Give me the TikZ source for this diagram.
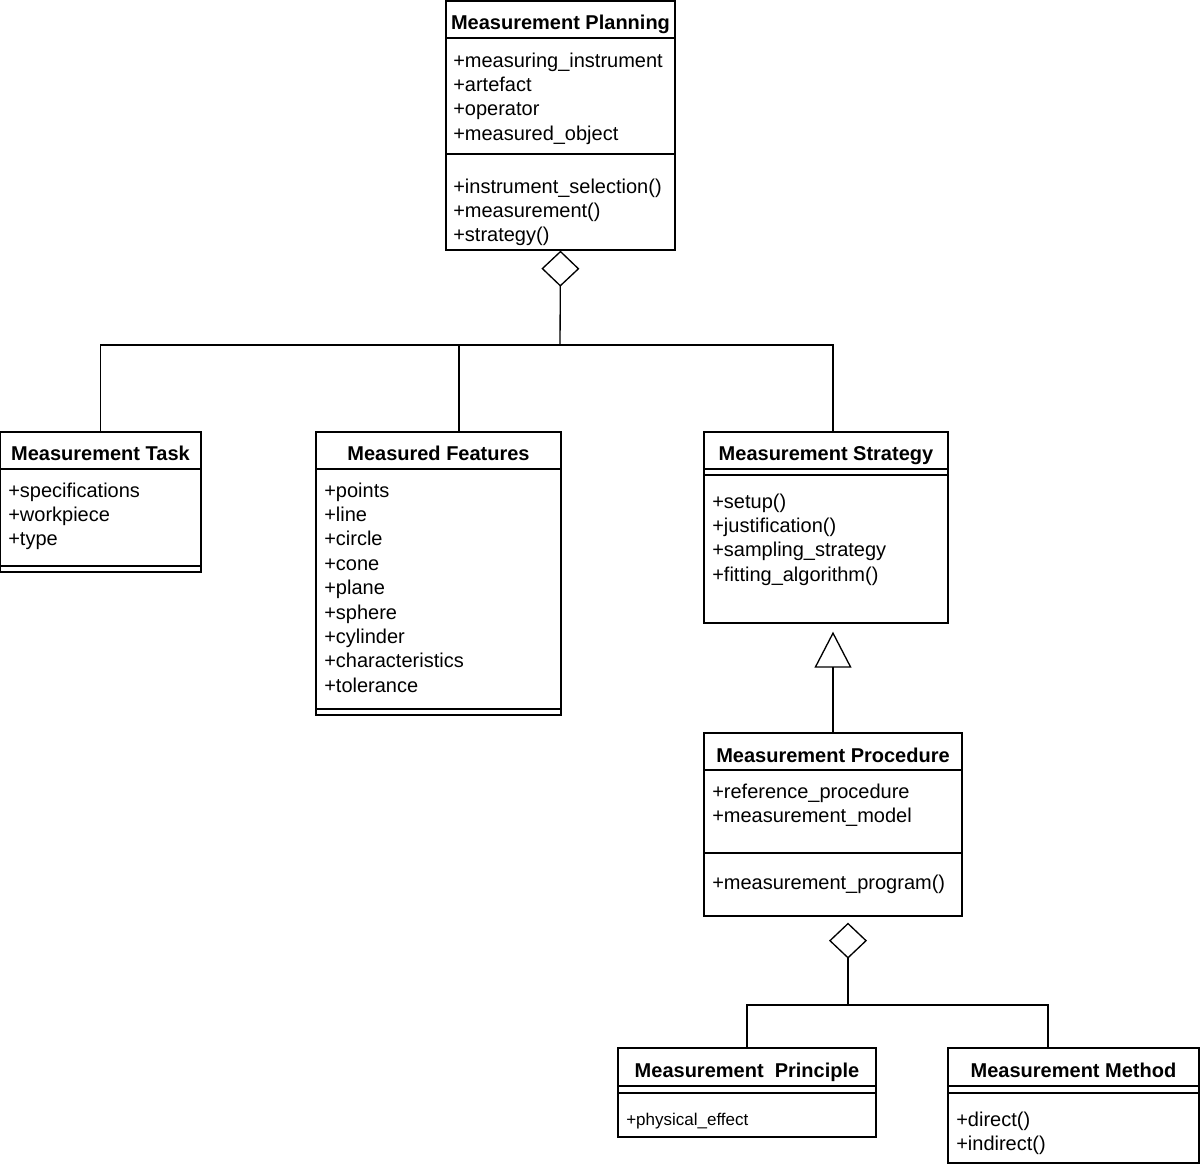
\documentclass[tikz,border=0pt]{standalone}
\usepackage{fontspec}
\setmainfont{Liberation Sans}
\usetikzlibrary{arrows.meta,fit}
\tikzset{
  umlbox/.style={draw, line width=1pt, inner sep=0pt},
  ttl/.style={font=\bfseries\fontsize{15}{18}\selectfont, inner sep=0pt, anchor=base},
  attr/.style={font=\fontsize{15}{18}\selectfont, inner sep=0pt, anchor=base west},
  sattr/.style={font=\fontsize{12.75}{15}\selectfont, inner sep=0pt, anchor=base west},
  sepline/.style={line width=1pt},
  conn/.style={line width=1pt},
  aggr/.style={conn, {Diamond[open,length=27pt,width=28.5pt]}-},
  gen/.style={conn, -{Triangle[open,length=27pt,width=27.75pt]}},
}
\begin{document}
\begin{tikzpicture}[x=0.75pt,y=-0.75pt]
\useasboundingbox (0,0) rectangle (1200,1164);

% ---------- Measurement Planning ----------
\node[umlbox, fit={(446,1) (675,250)}] (mp) {};
\draw[sepline] (446,38) -- (675,38);
\draw[sepline] (446,154) -- (675,154);
\node[ttl] (mpt) at (560.5,29) {Measurement Planning};
\node[attr] (mpa1) at (453,67) {+measuring\_instrument};
\node[attr] (mpa2) at (453,91.4) {+artefact};
\node[attr] (mpa3) at (453,115.8) {+operator};
\node[attr] (mpa4) at (453,140.2) {+measured\_object};
\node[attr] (mpm1) at (453,193) {+instrument\_selection()};
\node[attr] (mpm2) at (453,217.4) {+measurement()};
\node[attr] (mpm3) at (453,241.8) {+strategy()};

% ---------- Measurement Task ----------
\node[umlbox, fit={(0.5,432) (201,572)}] (task) {};
\draw[sepline] (0.5,469) -- (201,469);
\draw[sepline] (0.5,566) -- (201,566);
\node[ttl] (taskt) at (100.5,460) {Measurement Task};
\node[attr] (taska1) at (8,497) {+specifications};
\node[attr] (taska2) at (8,521.4) {+workpiece};
\node[attr] (taska3) at (8,545.8) {+type};

% ---------- Measured Features ----------
\node[umlbox, fit={(316,432) (561,715)}] (feat) {};
\draw[sepline] (316,469) -- (561,469);
\draw[sepline] (316,709) -- (561,709);
\node[ttl] (featt) at (438.5,460) {Measured Features};
\node[attr] (fa1) at (324,497) {+points};
\node[attr] (fa2) at (324,521.4) {+line};
\node[attr] (fa3) at (324,545.8) {+circle};
\node[attr] (fa4) at (324,570.2) {+cone};
\node[attr] (fa5) at (324,594.6) {+plane};
\node[attr] (fa6) at (324,619) {+sphere};
\node[attr] (fa7) at (324,643.4) {+cylinder};
\node[attr] (fa8) at (324,667.8) {+characteristics};
\node[attr] (fa9) at (324,692.2) {+tolerance};

% ---------- Measurement Strategy ----------
\node[umlbox, fit={(704,432) (948,623)}] (strat) {};
\draw[sepline] (704,469) -- (948,469);
\draw[sepline] (704,475) -- (948,475);
\node[ttl] (stratt) at (826,460) {Measurement Strategy};
\node[attr] (sa1) at (712,508) {+setup()};
\node[attr] (sa2) at (712,532.4) {+justification()};
\node[attr] (sa3) at (712,556.8) {+sampling\_strategy};
\node[attr] (sa4) at (712,581.2) {+fitting\_algorithm()};

% ---------- Measurement Procedure ----------
\node[umlbox, fit={(704,733) (962,916)}] (proc) {};
\draw[sepline] (704,770) -- (962,770);
\draw[sepline] (704,853) -- (962,853);
\node[ttl] (proct) at (833,762) {Measurement Procedure};
\node[attr] (pa1) at (712,798) {+reference\_procedure};
\node[attr] (pa2) at (712,822.4) {+measurement\_model};
\node[attr] (pm1) at (712,889) {+measurement\_program()};

% ---------- Measurement Principle ----------
\node[umlbox, fit={(618,1048) (876,1137)}] (princ) {};
\draw[sepline] (618,1086) -- (876,1086);
\draw[sepline] (618,1093) -- (876,1093);
\node[ttl] (princt) at (747,1077) {Measurement~~Principle};
\node[sattr] (pra1) at (626,1125) {+physical\_effect};

% ---------- Measurement Method ----------
\node[umlbox, fit={(948,1048) (1199,1163)}] (meth) {};
\draw[sepline] (948,1086) -- (1199,1086);
\draw[sepline] (948,1093) -- (1199,1093);
\node[ttl] (metht) at (1073.5,1077) {Measurement Method};
\node[attr] (ma1) at (956,1126) {+direct()};
\node[attr] (ma2) at (956,1150.4) {+indirect()};

% ---------- Connectors ----------
\coordinate (b1) at (560,345);
\coordinate (bf) at (459,345);
\coordinate (bs) at (833,345);
\draw[aggr] (mp.south) -- (b1);
\draw[conn] (task.north) |- (b1);
\draw[conn] (b1) -- (bs) -- (bs |- strat.north);
\draw[conn] (bf) -- (bf |- feat.north);

\coordinate (gx) at (833,700);
\draw[gen, shorten >=6pt] (gx |- proc.north) -- (gx |- strat.south);

\coordinate (b2) at (848,1005);
\coordinate (bm) at (1048,1005);
\draw[aggr, shorten <=4.5pt] (b2 |- proc.south) -- (b2);
\draw[conn] (princ.north) |- (b2) -- (bm) -- (bm |- meth.north);

\end{tikzpicture}
\end{document}
